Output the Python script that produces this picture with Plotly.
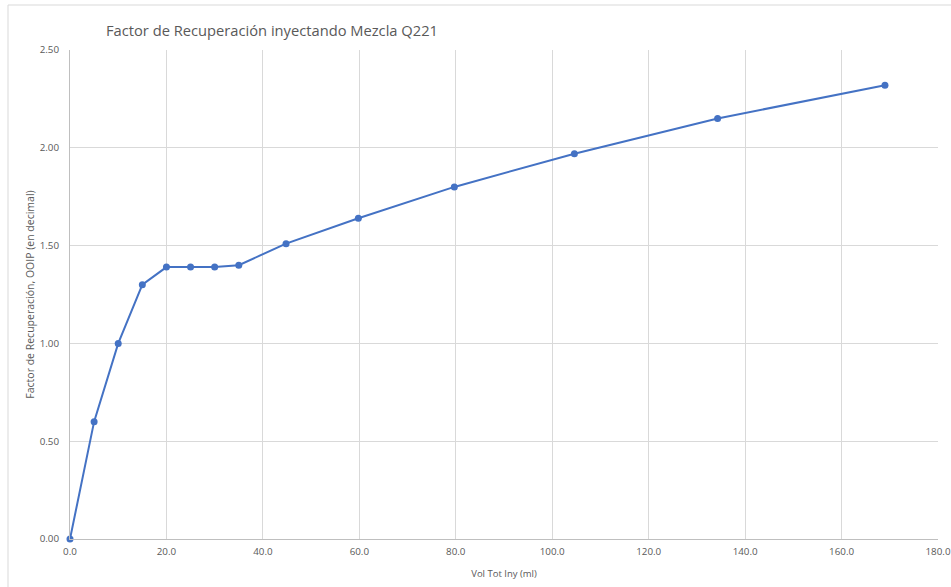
import plotly.graph_objects as go

vol_tot_iny = [0.0, 5.0, 10.0, 15.0, 20.0, 25.0, 30.0, 35.0, 44.8, 59.8, 79.7, 104.6, 134.3, 169.0]
factor_rec = [0.00, 0.60, 1.00, 1.30, 1.39, 1.39, 1.39, 1.40, 1.51, 1.64, 1.80, 1.97, 2.15, 2.32]

x_ticks = [0, 20, 40, 60, 80, 100, 120, 140, 160, 180]
y_ticks = [0.0, 0.5, 1.0, 1.5, 2.0, 2.5]

title_text = "Factor de Recuperación inyectando Mezcla Q221"
x_title = "Vol Tot Iny (ml)"
y_title = "Factor de Recuperación, OOIP (en decimal)"

FONT = "Open Sans"
GRAY = "#595959"

fig = go.Figure()
fig.add_trace(go.Scatter(
    x=vol_tot_iny, y=factor_rec, mode="lines+markers",
    line=dict(color="#4472C4", width=2),
    marker=dict(color="#4472C4", size=7),
    showlegend=False, cliponaxis=False,
))

fig.update_layout(
    width=951, height=587,
    margin=dict(l=70, r=13, t=50, b=48, autoexpand=False),
    paper_bgcolor="white", plot_bgcolor="white",
    font=dict(family=FONT, color=GRAY, size=9),
    title=dict(text=title_text, x=272 / 951, xanchor="center",
               y=1 - 31 / 587, yanchor="middle",
               font=dict(family=FONT, size=14.7, color=GRAY)),
    xaxis=dict(range=[0, 180], tickvals=x_ticks,
               ticktext=[f"{v:.1f}" for v in x_ticks],
               showgrid=True, gridcolor="#d9d9d9", gridwidth=1,
               showline=True, linecolor="#bfbfbf", linewidth=1,
               zeroline=False, ticks="", ticklabelstandoff=3, automargin=False,
               title=dict(text=x_title, font=dict(family=FONT, size=9.5, color=GRAY), standoff=13),
               tickfont=dict(family=FONT, size=9.8, color=GRAY)),
    yaxis=dict(range=[0, 2.5], tickvals=y_ticks,
               ticktext=[f"{v:.2f}" for v in y_ticks],
               showgrid=True, gridcolor="#d9d9d9", gridwidth=1,
               showline=True, linecolor="#bfbfbf", linewidth=1,
               zeroline=False, ticks="", ticklabelstandoff=8, automargin=False,
               title=dict(text=y_title, font=dict(family=FONT, size=10.5, color=GRAY), standoff=2),
               tickfont=dict(family=FONT, size=9.8, color=GRAY)),
)

# chart frame (light border, partly cropped in reference)
fig.add_shape(type="line", xref="paper", yref="paper",
              x0=(8 - 70) / 868, x1=(8 - 70) / 868,
              y0=(539 - 5) / 489, y1=(539 - 600) / 489,
              line=dict(color="#d9d9d9", width=1))
fig.add_shape(type="line", xref="paper", yref="paper",
              x0=(8 - 70) / 868, x1=(960 - 70) / 868,
              y0=(539 - 5) / 489, y1=(539 - 5) / 489,
              line=dict(color="#d9d9d9", width=1))

fig.write_html("out.html", config={"displayModeBar": False},
               post_script="document.body.style.margin='0px';")
